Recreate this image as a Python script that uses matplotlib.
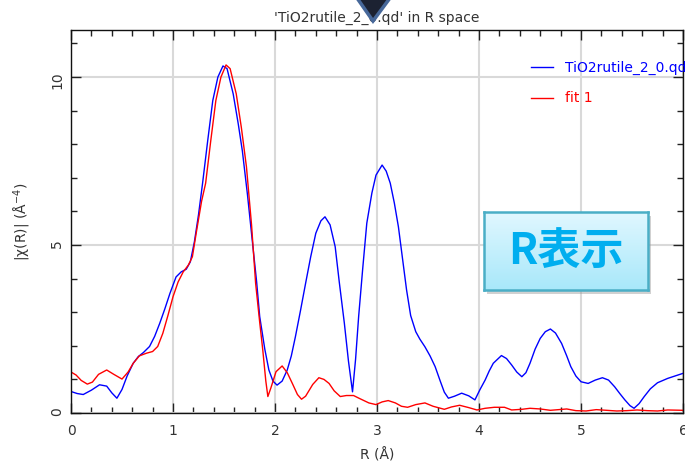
import matplotlib
matplotlib.use("Agg")
import matplotlib.pyplot as plt
import numpy as np
from matplotlib.patches import Polygon, Rectangle
from matplotlib.ticker import MultipleLocator

plt.rcParams['font.family'] = ['DejaVu Sans', 'Noto Sans CJK JP']

# |chi(R)| of the data and of fit 1
r_data = [0.00, 0.06, 0.12, 0.20, 0.28, 0.35, 0.40, 0.45, 0.50, 0.55, 0.61, 0.66,
          0.71, 0.77, 0.82, 0.87, 0.92, 0.97, 1.03, 1.08, 1.13, 1.17, 1.21, 1.25,
          1.29, 1.34, 1.39, 1.44, 1.49, 1.53, 1.59, 1.64, 1.68, 1.73, 1.78, 1.82,
          1.85, 1.90, 1.94, 1.98, 2.02, 2.07, 2.12, 2.16, 2.20, 2.25, 2.30, 2.35,
          2.40, 2.45, 2.49, 2.54, 2.59, 2.63, 2.68, 2.72, 2.76, 2.79, 2.82, 2.86,
          2.90, 2.95, 2.99, 3.05, 3.09, 3.13, 3.17, 3.21, 3.25, 3.29, 3.33, 3.38,
          3.42, 3.47, 3.52, 3.57, 3.62, 3.66, 3.70, 3.76, 3.83, 3.90, 3.96, 4.01,
          4.06, 4.10, 4.14, 4.22, 4.27, 4.32, 4.37, 4.42, 4.46, 4.50, 4.55, 4.60,
          4.65, 4.70, 4.75, 4.81, 4.86, 4.90, 4.95, 5.00, 5.07, 5.14, 5.21, 5.27,
          5.33, 5.38, 5.43, 5.48, 5.52, 5.57, 5.62, 5.68, 5.75, 5.85, 5.92, 6.00]
chi_data = [0.64, 0.58, 0.55, 0.68, 0.84, 0.80, 0.60, 0.44, 0.70, 1.10, 1.48, 1.68,
            1.80, 1.98, 2.28, 2.67, 3.10, 3.56, 4.05, 4.20, 4.28, 4.50, 5.10, 5.90,
            6.84, 8.10, 9.30, 10.00, 10.33, 10.25, 9.50, 8.60, 7.80, 6.50, 5.05, 3.90,
            2.87, 1.90, 1.28, 0.95, 0.83, 0.95, 1.28, 1.70, 2.27, 3.05, 3.86, 4.65,
            5.35, 5.72, 5.84, 5.60, 4.95, 3.90, 2.67, 1.55, 0.63, 1.60, 2.87, 4.30,
            5.65, 6.55, 7.08, 7.38, 7.20, 6.84, 6.25, 5.54, 4.60, 3.66, 2.90, 2.42,
            2.20, 1.97, 1.70, 1.38, 0.95, 0.62, 0.44, 0.50, 0.59, 0.51, 0.39, 0.70,
            0.98, 1.25, 1.48, 1.71, 1.62, 1.43, 1.22, 1.08, 1.20, 1.48, 1.90, 2.22,
            2.42, 2.50, 2.38, 2.07, 1.70, 1.38, 1.10, 0.93, 0.88, 0.98, 1.05, 0.98,
            0.78, 0.58, 0.39, 0.22, 0.14, 0.28, 0.49, 0.72, 0.90, 1.03, 1.10, 1.18]

r_fit = [0.00, 0.05, 0.10, 0.16, 0.21, 0.27, 0.35, 0.42, 0.50, 0.56, 0.61, 0.67,
         0.74, 0.80, 0.85, 0.90, 0.95, 1.00, 1.05, 1.10, 1.15, 1.19, 1.23, 1.28,
         1.32, 1.37, 1.42, 1.47, 1.52, 1.56, 1.62, 1.67, 1.72, 1.77, 1.81, 1.85,
         1.88, 1.91, 1.93, 1.96, 2.01, 2.07, 2.12, 2.17, 2.22, 2.26, 2.30, 2.37,
         2.43, 2.48, 2.53, 2.58, 2.64, 2.70, 2.77, 2.83, 2.92, 2.99, 3.05, 3.11,
         3.18, 3.24, 3.30, 3.38, 3.47, 3.55, 3.66, 3.73, 3.81, 3.90, 3.98, 4.06,
         4.15, 4.25, 4.32, 4.42, 4.50, 4.60, 4.70, 4.78, 4.86, 4.95, 5.05, 5.15,
         5.25, 5.35, 5.45, 5.55, 5.65, 5.75, 5.85, 6.00]
chi_fit = [1.22, 1.13, 0.97, 0.86, 0.92, 1.15, 1.28, 1.15, 1.01, 1.22, 1.48, 1.70,
           1.78, 1.83, 1.98, 2.37, 2.90, 3.46, 3.90, 4.20, 4.40, 4.65, 5.40, 6.30,
           6.84, 8.10, 9.30, 10.00, 10.36, 10.25, 9.50, 8.50, 7.33, 5.60, 3.86, 2.70,
           1.88, 0.95, 0.49, 0.75, 1.23, 1.40, 1.20, 0.88, 0.55, 0.41, 0.50, 0.85,
           1.05, 1.00, 0.88, 0.66, 0.49, 0.52, 0.52, 0.43, 0.30, 0.25, 0.33, 0.37,
           0.30, 0.20, 0.17, 0.25, 0.30, 0.20, 0.11, 0.18, 0.23, 0.16, 0.09, 0.14,
           0.17, 0.17, 0.09, 0.11, 0.14, 0.12, 0.08, 0.10, 0.12, 0.07, 0.06, 0.10,
           0.08, 0.06, 0.07, 0.09, 0.07, 0.06, 0.09, 0.08]

fig = plt.figure(figsize=(6.85, 4.62), dpi=100)
ax = fig.add_axes([71 / 685, 49 / 462, 612 / 685, 383 / 462])

ax.plot(r_data, chi_data, color='#0000ff', lw=1.0, label='TiO2rutile_2_0.qd')
ax.plot(r_fit, chi_fit, color='#ff0000', lw=1.0, label='fit 1')

ax.set_xlim(0, 6)
ax.set_ylim(0, 11.4)
ax.xaxis.set_major_locator(MultipleLocator(1))
ax.xaxis.set_minor_locator(MultipleLocator(0.2))
ax.yaxis.set_major_locator(MultipleLocator(5))
ax.yaxis.set_minor_locator(MultipleLocator(1))
ax.grid(True, which='major', color='#d9d9d9', lw=1.5)
ax.set_axisbelow(True)
ax.tick_params(which='both', direction='in', top=True, right=True,
               colors='#222222', labelcolor='#333333', labelsize=10)
ax.tick_params(which='major', length=7, width=1)
ax.tick_params(which='minor', length=4, width=1)
ax.tick_params(axis='y', labelrotation=90, pad=5)
ax.tick_params(axis='x', pad=8)
for s in ax.spines.values():
    s.set_color('#111111')
    s.set_linewidth(1.0)

ax.set_xlabel('R (Å)', color='#333333', fontsize=10, labelpad=7)
ax.set_ylabel('|χ(R)| (Å$^{-4}$)', color='#333333', fontsize=10, labelpad=12)
ax.set_title("'TiO2rutile_2_0.qd' in R space", color='#333333', fontsize=10, pad=6)

ax.legend(loc='upper left', bbox_to_anchor=(0.752, 0.92), frameon=False,
          borderpad=0, borderaxespad=0, handlelength=1.6, handletextpad=0.8,
          labelspacing=1.2, fontsize=10, labelcolor='linecolor')

# navigation arrow at the top
H = 462
fig.patches.append(Polygon([(357, H + 2), (390, H + 2), (373, H - 21)], closed=True,
                           transform=None, facecolor='#1c2232', edgecolor='#47689a',
                           lw=2.5, zorder=10))

# "R表示" badge with a soft shadow and vertical gradient
bx0, by0, bw, bh = 484, 212, 164, 78
fig.patches.append(Rectangle((bx0 + 3, H - by0 - bh - 4), bw, bh, transform=None,
                             facecolor='#9a9a9a', alpha=0.45, edgecolor='none', zorder=9))
bax = fig.add_axes([bx0 / 685, (H - by0 - bh) / H, bw / 685, bh / H], zorder=11)
grad = np.linspace(0, 1, 64)[:, None]
top_c = np.array([0.88, 0.97, 1.0])
bot_c = np.array([0.66, 0.91, 0.98])
img = top_c[None, None, :] * (1 - grad[..., None]) + bot_c[None, None, :] * grad[..., None]
bax.imshow(np.repeat(img, 2, axis=1), aspect='auto', extent=[0, 1, 0, 1])
bax.set_xticks([])
bax.set_yticks([])
for s in bax.spines.values():
    s.set_color('#4aaec6')
    s.set_linewidth(1.8)
bax.text(0.5, 0.5, 'R表示', transform=bax.transAxes, ha='center', va='center',
         fontsize=31, fontweight='bold', color='#00aeef',
         family=['Noto Sans CJK JP', 'DejaVu Sans'])

fig.savefig('out.png', dpi=100)
